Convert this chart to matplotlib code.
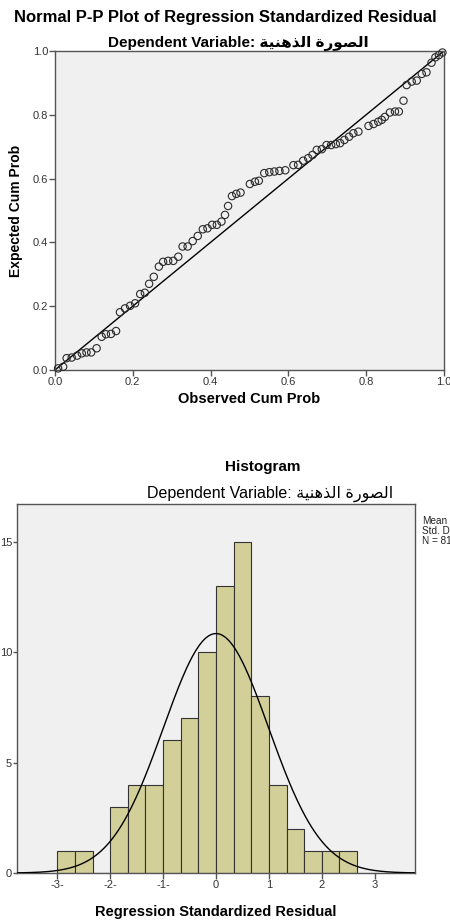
import numpy as np
import matplotlib
matplotlib.use('Agg')
import matplotlib.pyplot as plt

# P-P plot points (observed cum prob, expected cum prob)
observed = [0.008, 0.021, 0.030, 0.043, 0.057, 0.069, 0.081, 0.093, 0.107, 0.120,
            0.131, 0.144, 0.157, 0.167, 0.180, 0.193, 0.206, 0.219, 0.231, 0.242,
            0.254, 0.267, 0.278, 0.291, 0.304, 0.317, 0.328, 0.341, 0.354, 0.367,
            0.380, 0.392, 0.404, 0.416, 0.428,
            0.437, 0.445, 0.455, 0.466, 0.477, 0.501, 0.514, 0.524, 0.538, 0.551,
            0.564, 0.577, 0.592, 0.613, 0.625, 0.638, 0.651, 0.662, 0.673, 0.686,
            0.698, 0.710, 0.722, 0.733, 0.744, 0.756, 0.767, 0.780, 0.806, 0.819,
            0.831, 0.840, 0.848, 0.861, 0.874, 0.884, 0.896, 0.904, 0.917, 0.930,
            0.943, 0.955, 0.968, 0.978, 0.987, 0.996]
expected = [0.005, 0.010, 0.037, 0.039, 0.045, 0.052, 0.055, 0.055, 0.068, 0.104,
            0.112, 0.113, 0.122, 0.181, 0.193, 0.201, 0.209, 0.238, 0.242, 0.270,
            0.292, 0.324, 0.339, 0.342, 0.342, 0.355, 0.387, 0.387, 0.404, 0.420,
            0.441, 0.444, 0.455, 0.455, 0.465,
            0.486, 0.514, 0.545, 0.552, 0.556, 0.583, 0.590, 0.593, 0.617, 0.620,
            0.622, 0.624, 0.626, 0.642, 0.643, 0.656, 0.664, 0.674, 0.690, 0.692,
            0.705, 0.705, 0.708, 0.711, 0.721, 0.731, 0.742, 0.747, 0.765, 0.771,
            0.778, 0.784, 0.793, 0.807, 0.810, 0.810, 0.844, 0.893, 0.904, 0.907,
            0.928, 0.933, 0.963, 0.980, 0.987, 0.995]

# histogram: bins of width 1/3 starting at -3
bin_edges = [-3, -8/3, -7/3, -2, -5/3, -4/3, -1, -2/3, -1/3, 0, 1/3, 2/3, 1,
             4/3, 5/3, 2, 7/3, 8/3]
counts = [1, 1, 0, 3, 4, 4, 6, 7, 10, 13, 15, 8, 4, 2, 1, 1, 1]
res_mean = 0.0
res_std = 0.994
n_obs = 81

pp_ticks = [0.0, 0.2, 0.4, 0.6, 0.8, 1.0]
pp_ticklabels = ['0.0', '0.2', '0.4', '0.6', '0.8', '1.0']
hist_xticks = [-3, -2, -1, 0, 1, 2, 3]
hist_xticklabels = ['-3-', '-2-', '-1-', '0', '1', '2', '3']
hist_yticks = [0, 5, 10, 15]
# stats box as far as it is visible at the right edge
stats_lines = ['Mean', 'Std. D', 'N = 81']

# dependent variable label "الصورة الذهنية" written in shaped, visual order
dep_label = '\uFE94\uFEF4\uFEE8\uFEEB\uFEAC\uFEDF\uFE8D \uFE93\uFEAD\uFEEE\uFEBC\uFEDF\uFE8D'

FONT = ['Liberation Sans', 'DejaVu Sans']
plt.rcParams['font.family'] = FONT
BG = '#F0F0F0'
SPINE = '#555555'
TICK = '#333333'

fig = plt.figure(figsize=(4.5, 9.21), dpi=100)


def style_axes(ax):
    ax.set_facecolor(BG)
    for s in ax.spines.values():
        s.set_color(SPINE)
        s.set_linewidth(1.0)
    ax.tick_params(direction='out', length=4, width=1, colors=SPINE,
                   labelcolor=TICK, labelsize=8, pad=1)


# ---- Normal P-P plot ----
ax1 = fig.add_axes([0.1222, 0.5983, 0.8644, 0.3464])
style_axes(ax1)
ax1.plot([0, 1], [0, 1], color='black', linewidth=1.0, zorder=2)
ax1.scatter(observed, expected, s=28, facecolors='none', edgecolors='#2a2a2a',
            linewidths=0.8, zorder=3, clip_on=False)
ax1.set_xlim(0, 1)
ax1.set_ylim(0, 1)
ax1.set_xticks(pp_ticks)
ax1.set_xticklabels(pp_ticklabels)
ax1.set_yticks(pp_ticks)
ax1.set_yticklabels(pp_ticklabels)
ax1.set_xlabel('Observed Cum Prob', fontsize=10.5, fontweight='bold', labelpad=4)
ax1.set_ylabel('Expected Cum Prob', fontsize=10, fontweight='bold', labelpad=7)

fig.text(0.5, 0.981, 'Normal P-P Plot of Regression Standardized Residual',
         ha='center', va='center', fontsize=12, fontweight='bold')
fig.text(0.53, 0.953, 'Dependent Variable: ' + dep_label,
         ha='center', va='center', fontsize=11, fontweight='bold')

# ---- Histogram ----
ax2 = fig.add_axes([0.0378, 0.0521, 0.8844, 0.4007])
style_axes(ax2)
ax2.tick_params(axis='y', length=3, pad=0.5)
ax2.hist(bin_edges[:-1], bins=bin_edges, weights=counts, color='#D3CF99',
         edgecolor='#333333', linewidth=0.8, zorder=2)
xs = np.linspace(-3.76, 3.76, 400)
bw = bin_edges[1] - bin_edges[0]
curve = n_obs * bw / (res_std * np.sqrt(2 * np.pi)) * np.exp(-0.5 * ((xs - res_mean) / res_std) ** 2)
ax2.plot(xs, curve, color='black', linewidth=1.0, zorder=3)
ax2.set_xlim(-3.76, 3.76)
ax2.set_ylim(0, 16.7)
ax2.set_xticks(hist_xticks)
ax2.set_xticklabels(hist_xticklabels)
ax2.set_yticks(hist_yticks)
ax2.set_xlabel('Regression Standardized Residual', fontsize=10.5, fontweight='bold',
               labelpad=11)

fig.text(0.585, 0.493, 'Histogram', ha='center', va='center',
         fontsize=11, fontweight='bold')
fig.text(0.60, 0.4635, 'Dependent Variable: ' + dep_label,
         ha='center', va='center', fontsize=11.5)

fig.text(0.937, 0.4235, '\n'.join(stats_lines), ha='left', va='center',
         multialignment='left', fontsize=7.2, linespacing=1.05, color='#222222')

fig.savefig('out.png', dpi=100)
